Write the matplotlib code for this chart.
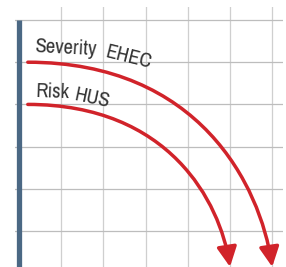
import matplotlib
matplotlib.use('Agg')
import matplotlib.pyplot as plt
from matplotlib.patches import FancyArrowPatch
from matplotlib.path import Path

# arrows: start (x, y) and end (x, y) in grid units
series = ['Severity EHEC', 'Risk HUS']
start_x = [0.21, 0.21]
start_y = [5.0, 4.0]
end_x = [6.0, 5.0]
end_y = [0.15, 0.15]

# label words with their anchor and rotation
words = ['Severity', 'EHEC', 'Risk', 'HUS']
word_x = [0.37, 2.03, 0.40, 1.29]
word_y = [5.24, 5.12, 4.17, 4.10]
word_rot = [-3, -14, -2, -12]

grid_x = [1, 2, 3, 4, 5, 6]
grid_y = [1, 2, 3, 4, 5, 6]

red = '#d1232a'

fig = plt.figure(figsize=(2.86, 2.67), dpi=100)
ax = fig.add_axes([0.054, 0.0, 0.9356, 0.974])
ax.set_xlim(-0.083, 6.256)
ax.set_ylim(0.147, 6.31)
ax.axis('off')

for gx in grid_x:
    ax.axvline(gx, color='#cfcfcf', lw=0.9, zorder=1)
for gy in grid_y:
    ax.axhline(gy, color='#bdbdbd', lw=0.9, zorder=1)

# left axis bar
ax.plot([0, 0], [0.147, 6.0], color='#4b6884', lw=3.8,
        solid_capstyle='butt', zorder=2)

# curved arrows as cubic bezier paths
for sx, sy, ex, ey in zip(start_x, start_y, end_x, end_y):
    dx = ex - sx
    dy = sy - ey
    verts = [(sx, sy), (sx + 0.7 * dx, sy), (ex - 0.05 * dx, ey + 0.4 * dy), (ex, ey)]
    path = Path(verts, [Path.MOVETO, Path.CURVE4, Path.CURVE4, Path.CURVE4])
    arr = FancyArrowPatch(path=path, arrowstyle='-|>,head_length=0.6,head_width=0.3',
                          mutation_scale=20, color=red, lw=2.5,
                          transform=ax.transData, zorder=3, clip_on=False)
    ax.add_patch(arr)

for w, x, y, r in zip(words, word_x, word_y, word_rot):
    ax.text(x, y, w, rotation=r, rotation_mode='anchor', ha='left', va='baseline',
            fontsize=14.8, color='#333333', weight='medium',
            family=['Archivo Narrow', 'DejaVu Sans'], zorder=4)

fig.savefig('out.png', dpi=100)
